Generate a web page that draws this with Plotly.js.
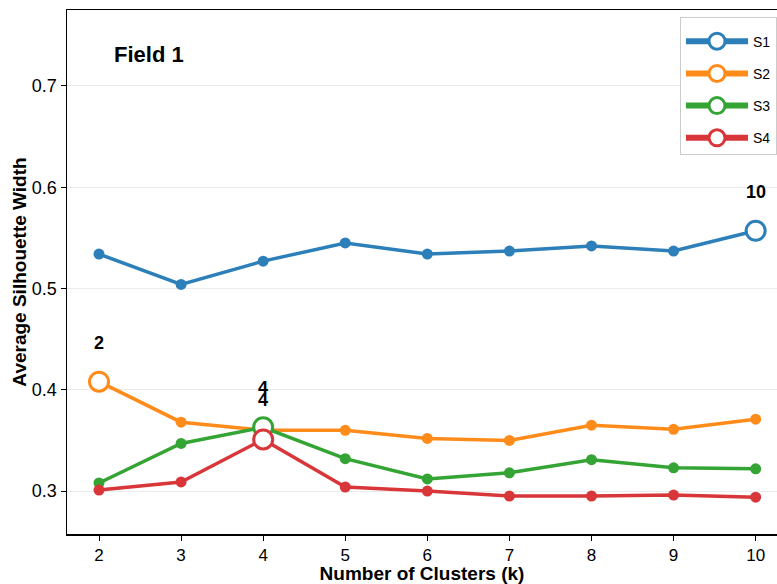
<!DOCTYPE html>
<html>
<head>
<meta charset="utf-8">
<script src="https://cdn.plot.ly/plotly-3.0.1.min.js"></script>
<style>html,body{margin:0;padding:0;background:#fff;overflow:hidden;}</style>
</head>
<body>
<div id="chart" style="width:777px;height:584px;"></div>
<script>
const clusters = [2, 3, 4, 5, 6, 7, 8, 9, 10];
const seriesNames = ["S1", "S2", "S3", "S4"];
const s1 = [0.534, 0.504, 0.527, 0.545, 0.534, 0.537, 0.542, 0.537, 0.557];
const s2 = [0.408, 0.368, 0.360, 0.360, 0.352, 0.350, 0.365, 0.361, 0.371];
const s3 = [0.308, 0.347, 0.363, 0.332, 0.312, 0.318, 0.331, 0.323, 0.322];
const s4 = [0.301, 0.309, 0.351, 0.304, 0.300, 0.295, 0.295, 0.296, 0.294];
const bestK = [10, 2, 4, 4];
const colors = ["#2c7fb8", "#ff8c1a", "#34a434", "#d9363a"];
const chartTitle = "Field 1";

const FONT = "Liberation Sans, Arial, sans-serif";
const allSeries = [s1, s2, s3, s4];
const traces = [];
const annotations = [];
allSeries.forEach((vals, i) => {
  traces.push({
    x: clusters, y: vals, type: "scatter", mode: "lines+markers",
    line: {color: colors[i], width: 3.5},
    marker: {color: colors[i], size: 11},
    showlegend: false, hoverinfo: "x+y"
  });
});
allSeries.forEach((vals, i) => {
  const idx = clusters.indexOf(bestK[i]);
  traces.push({
    x: [bestK[i]], y: [vals[idx]], type: "scatter", mode: "lines+markers",
    name: seriesNames[i], legendgroup: seriesNames[i],
    line: {color: colors[i], width: 6},
    marker: {color: "#ffffff", size: 19, line: {color: colors[i], width: 3}},
    showlegend: true
  });
  annotations.push({
    x: bestK[i], y: vals[idx], xref: "x", yref: "y",
    text: "<b>" + bestK[i] + "</b>", showarrow: false, yshift: 39,
    font: {family: FONT, size: 18, color: "#000"}
  });
});
annotations.push({
  x: 0.063, y: 0.915, xref: "paper", yref: "paper", xanchor: "left", yanchor: "middle",
  text: "<b>" + chartTitle + "</b>", showarrow: false,
  font: {family: FONT, size: 22, color: "#000"}
});

const layout = {
  width: 777, height: 584,
  margin: {l: 67, r: 0, t: 10, b: 50},
  paper_bgcolor: "#fff", plot_bgcolor: "#fff",
  font: {family: FONT, color: "#000"},
  showlegend: true,
  legend: {
    x: 1, y: 0.987, xanchor: "right", yanchor: "top",
    bgcolor: "#fff", bordercolor: "#cccccc", borderwidth: 1,
    font: {size: 14, color: "#000"},
    title: {text: "&nbsp;", font: {size: 6}},
    traceorder: "grouped", tracegroupgap: 11, itemwidth: 62
  },
  xaxis: {
    range: [1.61, 10.26], tickvals: clusters, ticktext: clusters.map(String),
    showgrid: false, zeroline: false,
    showline: true, linecolor: "#000", linewidth: 1.5, mirror: true,
    ticks: "outside", ticklen: 5, tickcolor: "#000",
    tickfont: {size: 17},
    title: {text: "<b>Number of Clusters (k)</b>", font: {size: 19}, standoff: 3}
  },
  yaxis: {
    range: [0.2576, 0.775], tickvals: [0.3, 0.4, 0.5, 0.6, 0.7],
    showgrid: true, gridcolor: "#ebebeb", gridwidth: 1, zeroline: false,
    showline: true, linecolor: "#000", linewidth: 1.5,
    ticks: "outside", ticklen: 5, tickcolor: "#000",
    tickfont: {size: 18},
    title: {text: "<b>Average Silhouette Width</b>", font: {size: 19}, standoff: 0}
  },
  annotations: annotations
};

Plotly.newPlot("chart", traces, layout, {displayModeBar: false, staticPlot: true});
</script>
</body>
</html>
